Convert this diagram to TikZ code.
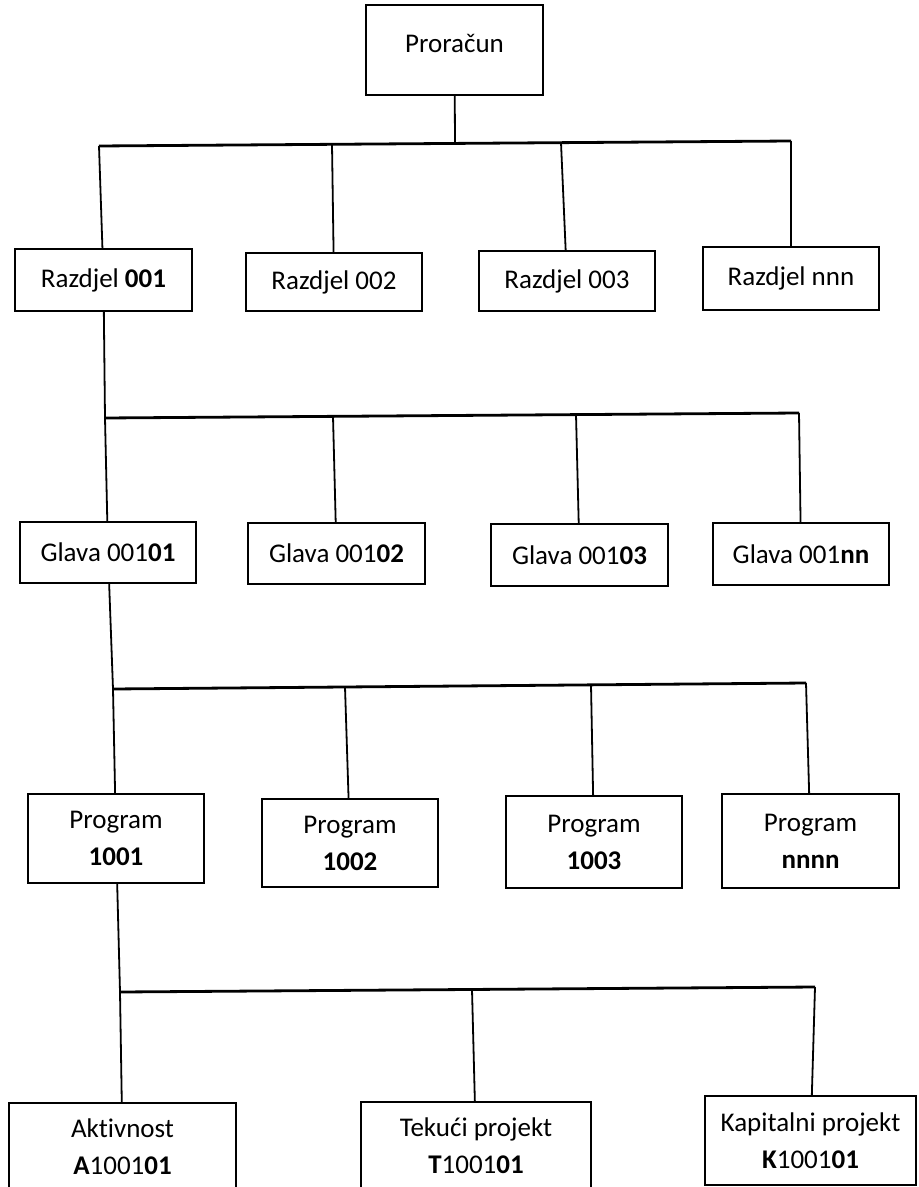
\documentclass[tikz,border=0pt]{standalone}
\usepackage{fontspec}
\setmainfont{Carlito}[Ligatures=NoCommon]
\usepackage{tkz-euclide}
\tikzset{global scale/.style={
        scale=#1,
        every node/.append style={scale=#1}
    }
}
\tikzset{orgbox/.style={draw,line width=1.3pt,inner sep=0pt,align=center,
        font=\fontsize{27}{37}\selectfont},
    link/.style={line width=.9pt},
    bus/.style={line width=1.4pt}
}

\begin{document}
\begin{tikzpicture}[x=1pt,y=-1pt,global scale=.5]
        \useasboundingbox (0,0) rectangle (919,1187);
        \clip (0,0) rectangle (919,1187);
        \node[orgbox,minimum width=177pt,minimum height=90pt,text depth=14pt] (P) at (454.5,50) {Proračun};
        \node[orgbox,minimum width=177pt,minimum height=62pt] (R1) at (103.5,280) {Razdjel \textbf{001}};
        \node[orgbox,minimum width=176pt,minimum height=58pt] (R2) at (334,282) {Razdjel 002};
        \node[orgbox,minimum width=176pt,minimum height=60pt] (R3) at (567,281) {Razdjel 003};
        \node[orgbox,minimum width=176pt,minimum height=63pt] (R4) at (791,278.5) {Razdjel nnn};
        \node[orgbox,minimum width=176pt,minimum height=61pt] (G1) at (108,552.5) {Glava 001\textbf{01}};
        \node[orgbox,minimum width=177pt,minimum height=61pt] (G2) at (336.5,553.5) {Glava 001\textbf{02}};
        \node[orgbox,minimum width=177pt,minimum height=62pt] (G3) at (579.5,555) {Glava 001\textbf{03}};
        \node[orgbox,minimum width=176pt,minimum height=62pt] (G4) at (801,554) {Glava 001\textbf{nn}};
        \node[orgbox,minimum width=176pt,minimum height=89pt] (Pr1) at (116,838.5) {Program\\\textbf{1001}};
        \node[orgbox,minimum width=176pt,minimum height=88pt] (Pr2) at (350,843) {Program\\\textbf{1002}};
        \node[orgbox,minimum width=176pt,minimum height=92pt] (Pr3) at (594,842) {Program\\\textbf{1003}};
        \node[orgbox,minimum width=177pt,minimum height=94pt] (Pr4) at (810.5,841) {Program\\\textbf{nnnn}};
        \node[orgbox,minimum width=227pt,minimum height=87pt] (A) at (122.5,1146.5) {Aktivnost\\\textbf{A}1001\textbf{01}};
        \node[orgbox,minimum width=230pt,minimum height=88pt] (T) at (476,1146) {Tekući projekt\\\textbf{T}1001\textbf{01}};
        \node[orgbox,minimum width=211pt,minimum height=89pt] (K) at (810.5,1140.5) {Kapitalni projekt\\\textbf{K}1001\textbf{01}};
        \tkzDefPoints{455/143.4/s1,99/146/a1,332/144.3/a2,561/142.7/a3,791/141/a4}
        \tkzDefPoints{105/418/b1,333/416.4/b2,576/414.6/b3,799/413/b4}
        \tkzDefPoints{113/689/c1,345/687/c2,591/684.9/c3,806/683/c4}
        \tkzDefPoints{120/992/d1,472/989.5/d2,815/987/d3}
        \draw[bus] (a1) -- (a4);
        \draw[bus] (b1) -- (b4);
        \draw[bus] (c1) -- (c4);
        \draw[bus] (d1) -- (d3);
        \draw[link] (P) -- (s1);
        \draw[link] (a1) -- (R1);
        \draw[link] (a2) -- (R2);
        \draw[link] (a3) -- (R3);
        \draw[link] (a4) -- (R4);
        \draw[link] (R1) -- (b1);
        \draw[link] (b1) -- (G1);
        \draw[link] (b2) -- (G2);
        \draw[link] (b3) -- (G3);
        \draw[link] (b4) -- (G4);
        \draw[link] (G1) -- (c1);
        \draw[link] (c1) -- (Pr1);
        \draw[link] (c2) -- (Pr2);
        \draw[link] (c3) -- (Pr3);
        \draw[link] (c4) -- (Pr4);
        \draw[link] (Pr1) -- (d1);
        \draw[link] (d1) -- (A);
        \draw[link] (d2) -- (T);
        \draw[link] (d3) -- (K);
    \end{tikzpicture}
\end{document}
